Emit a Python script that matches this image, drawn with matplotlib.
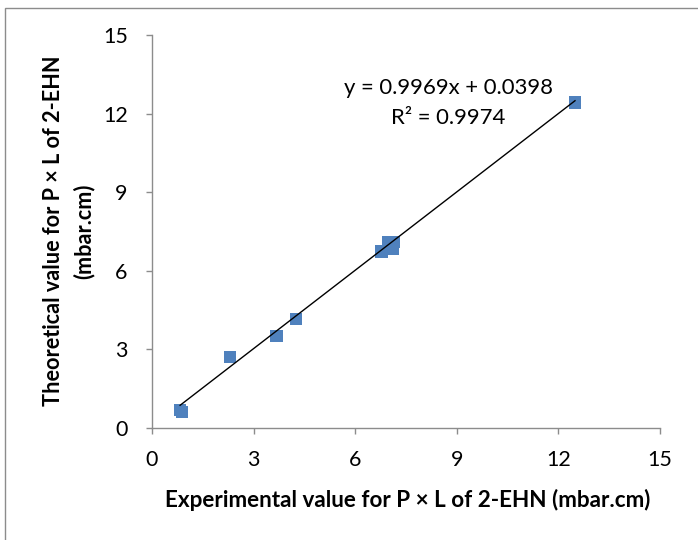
import numpy as np
import matplotlib
matplotlib.use("Agg")
import matplotlib.pyplot as plt
from matplotlib.patches import Rectangle

# Data
x_exp = [0.83, 0.88, 2.30, 3.68, 4.25, 6.78, 6.97, 7.14, 7.12, 12.49]
y_theo = [0.69, 0.62, 2.71, 3.52, 4.15, 6.73, 7.09, 7.09, 6.85, 12.43]
slope = 0.9969
intercept = 0.0398
eq_text = "y = 0.9969x + 0.0398"
r2_text = "R² = 0.9974"
ticks = [0, 3, 6, 9, 12, 15]
xlabel = "Experimental value for P × L of 2-EHN (mbar.cm)"
ylabel_lines = ["Theoretical value for P × L of 2-EHN", "(mbar.cm)"]

plt.rcParams['font.family'] = ['Lato', 'DejaVu Sans']

fig = plt.figure(figsize=(6.98, 5.40), dpi=100)
ax = fig.add_axes([152/698, 1-428/540, (660-152)/698, (428-35)/540])

# figure border (left/top visible)
fig.patches.append(Rectangle((5/698, -0.1), 2, 1.1 - 8/540, transform=fig.transFigure,
                             fill=False, edgecolor='#8c8c8c', linewidth=1.0))

ax.scatter(x_exp, y_theo, marker='s', s=80, color='#4F81BD', edgecolors='none', zorder=2)
xl = np.array([min(x_exp), max(x_exp)])
ax.plot(xl, slope*xl + intercept, color='black', linewidth=1.0, zorder=3)

ax.set_xlim(0, 15)
ax.set_ylim(0, 15)
ax.set_xticks(ticks)
ax.set_yticks(ticks)
ax.set_xticklabels([str(t) for t in ticks])
ax.set_yticklabels([str(t) for t in ticks])
for s in ['top', 'right']:
    ax.spines[s].set_visible(False)
for s in ['left', 'bottom']:
    ax.spines[s].set_color('#8c8c8c')
    ax.spines[s].set_linewidth(1.0)
ax.tick_params(direction='out', length=4.5, width=1.0, color='#8c8c8c', labelsize=15.5)
ax.tick_params(axis='x', pad=11)
ax.tick_params(axis='y', pad=13)

fig.text(408/698, 1-500/540, xlabel, fontsize=16.2, fontweight='bold',
         ha='center', va='center')
fig.text(54/698, 1-231/540, ylabel_lines[0], fontsize=15.6, fontweight='bold',
         ha='center', va='center', rotation=90)
fig.text(84/698, 1-231/540, ylabel_lines[1], fontsize=15.6, fontweight='bold',
         ha='center', va='center', rotation=90)

fig.text(448/698, 1-88/540, eq_text, fontsize=15.9, ha='center', va='center')
fig.text(448/698, 1-118/540, r2_text, fontsize=15.9, ha='center', va='center')

fig.savefig("out.png", dpi=100)
